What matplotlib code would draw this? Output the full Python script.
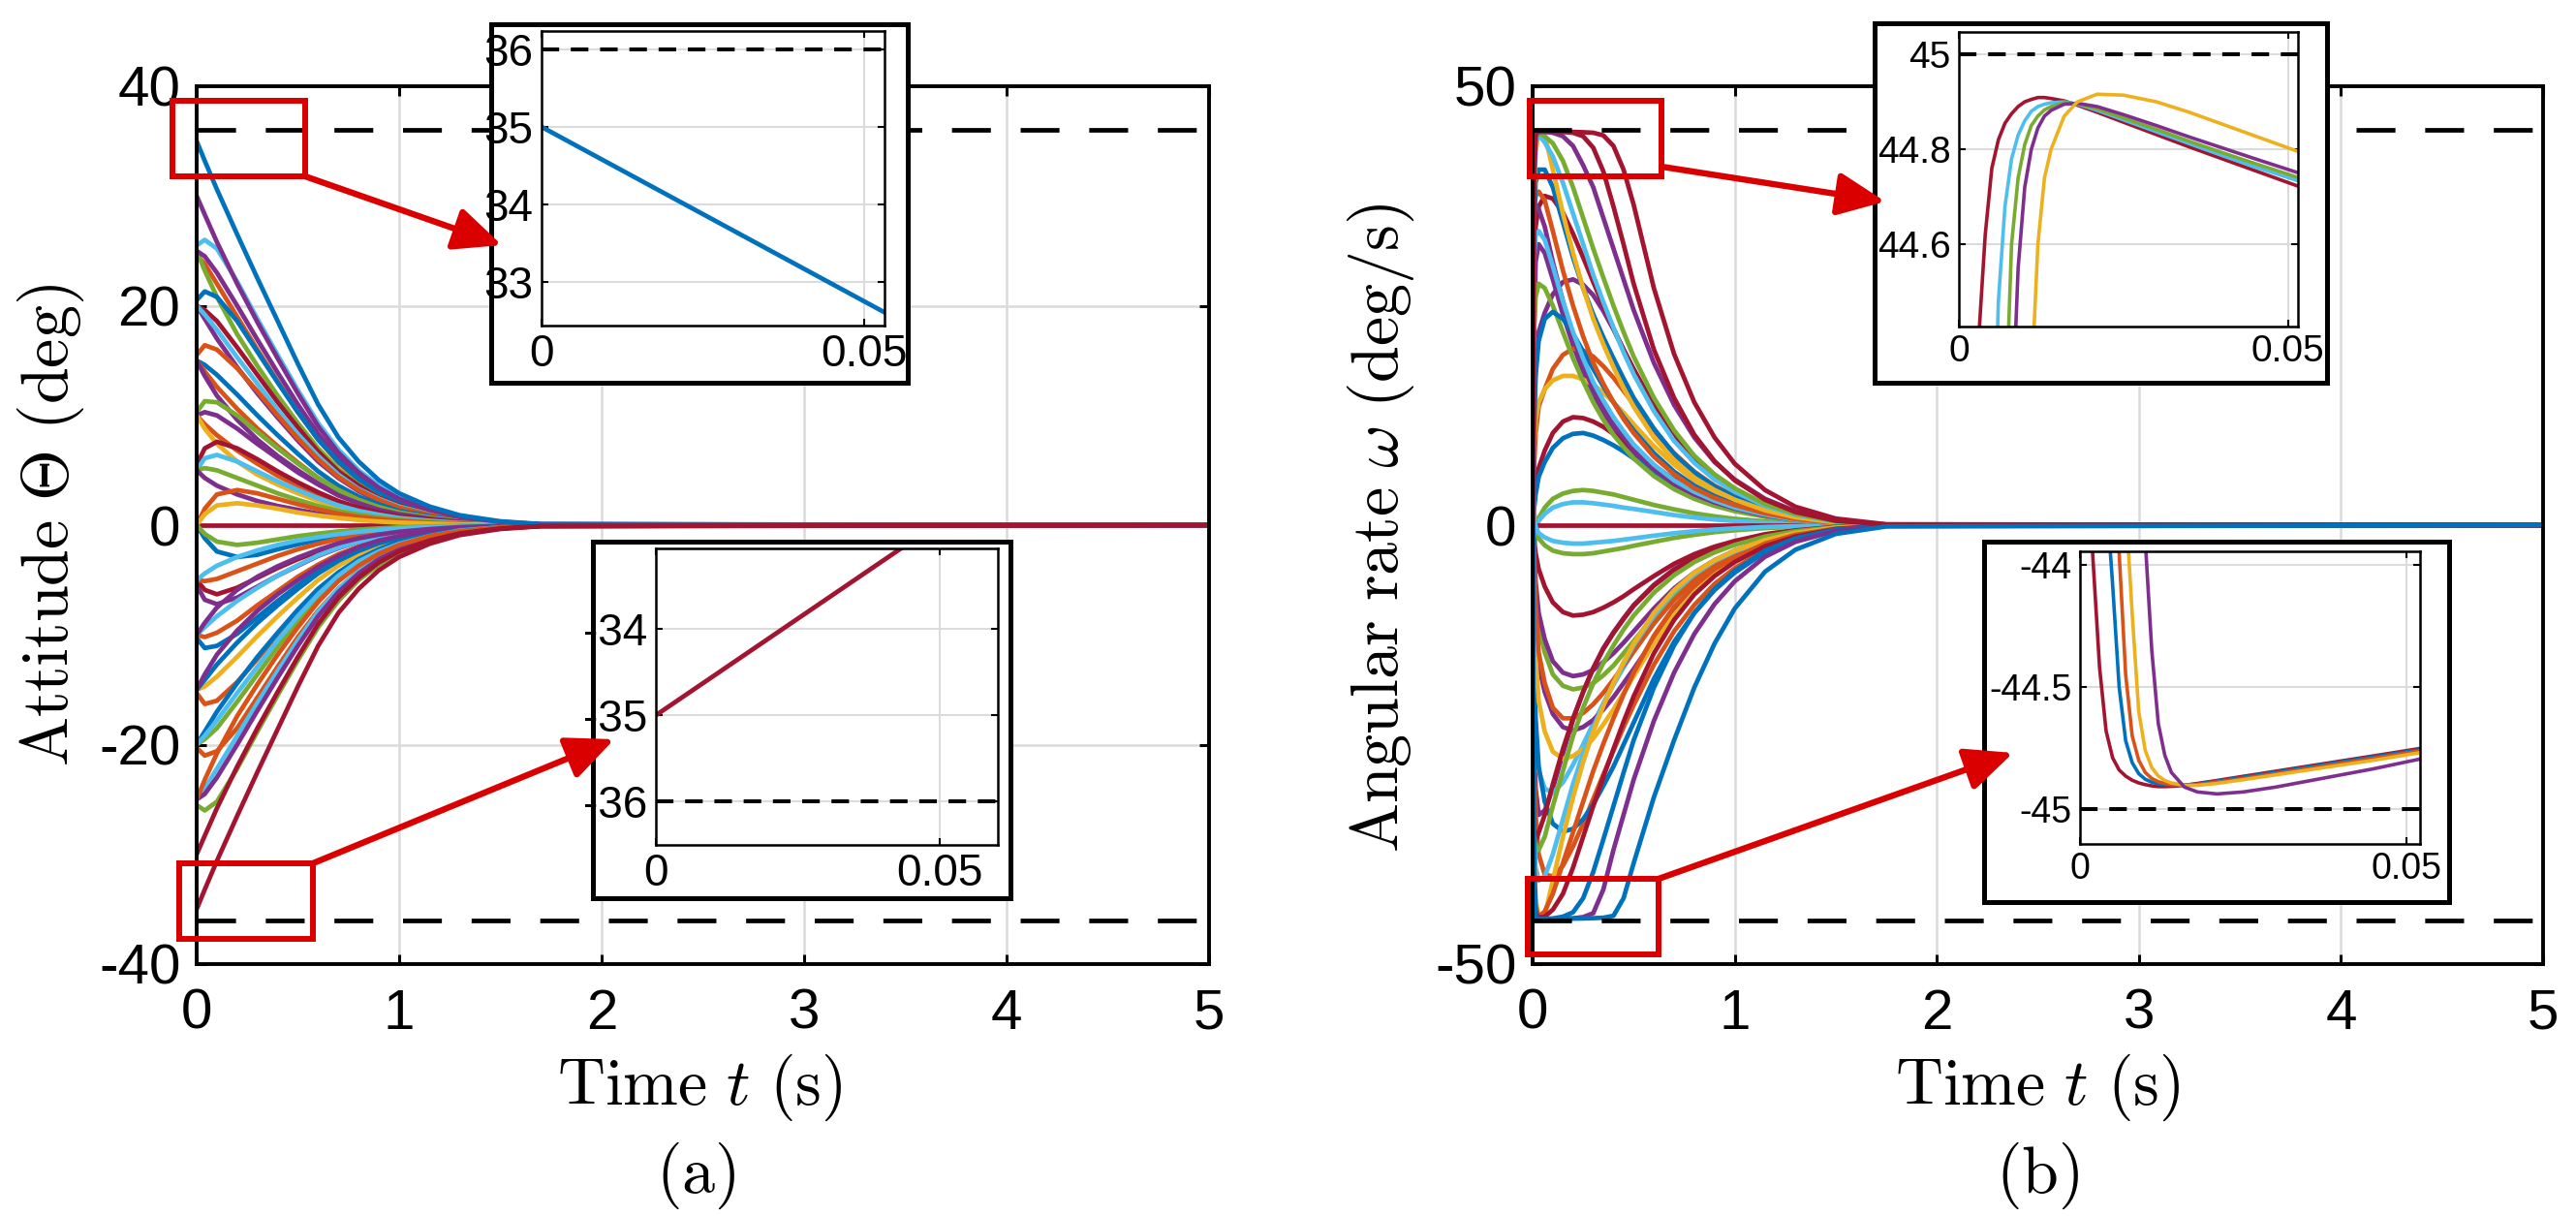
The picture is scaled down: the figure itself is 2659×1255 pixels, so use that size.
import matplotlib.pyplot as plt
from matplotlib.patches import Rectangle, FancyArrowPatch

# ---- data ----
# (a) attitude, deg, sampled at A_T seconds
A_T = [0, 0.04, 0.1, 0.2, 0.3, 0.4, 0.5, 0.6, 0.7, 0.8, 0.9, 1.0, 1.15, 1.3, 1.5, 1.7, 5.0]
A_CURVES = [
    [25.5, 26.0, 25.2, 22.2, 18.8, 15.5, 12.3, 9.3, 6.9, 5.0, 3.6, 2.5, 1.5, 0.8, 0.3, 0.08, 0],
    [24.6, 23.8, 22.0, 19.0, 16.0, 13.1, 10.3, 7.8, 5.7, 4.1, 2.9, 2.0, 1.2, 0.6, 0.25, 0.06, 0],
    [25, 23.2, 20.8, 17.4, 14.5, 11.8, 9.3, 7.0, 5.1, 3.7, 2.6, 1.8, 1.0, 0.55, 0.2, 0.05, 0],
    [25, 24.5, 23, 20, 16.9, 13.9, 11, 8.3, 6.1, 4.4, 3.1, 2.2, 1.3, 0.7, 0.27, 0.07, 0],
    [20.5, 21.3, 20.8, 18.6, 15.8, 13.0, 10.3, 7.8, 5.8, 4.2, 3.0, 2.1, 1.25, 0.65, 0.25, 0.07, 0],
    [20, 19.6, 18.6, 16.2, 13.7, 11.2, 8.9, 6.7, 4.9, 3.6, 2.5, 1.8, 1.05, 0.55, 0.2, 0.05, 0],
    [20, 18.8, 17.0, 14.4, 12.0, 9.8, 7.7, 5.8, 4.3, 3.1, 2.2, 1.5, 0.9, 0.45, 0.18, 0.05, 0],
    [20, 19.2, 17.8, 15.3, 12.9, 10.5, 8.3, 6.3, 4.6, 3.3, 2.4, 1.7, 1.0, 0.5, 0.2, 0.05, 0],
    [15.5, 16.4, 16.0, 14.3, 12.2, 10.0, 7.9, 6.0, 4.4, 3.2, 2.3, 1.6, 0.95, 0.5, 0.2, 0.05, 0],
    [15, 14.6, 13.7, 11.9, 10.0, 8.2, 6.5, 4.9, 3.6, 2.6, 1.9, 1.3, 0.8, 0.4, 0.15, 0.04, 0],
    [15, 14.0, 12.6, 10.6, 8.8, 7.2, 5.7, 4.3, 3.2, 2.3, 1.6, 1.15, 0.7, 0.35, 0.13, 0.03, 0],
    [15, 13.6, 11.8, 9.6, 7.8, 6.3, 5.0, 3.8, 2.8, 2.0, 1.4, 1.0, 0.6, 0.3, 0.12, 0.03, 0],
    [10.3, 11.3, 11.2, 10.0, 8.5, 7.0, 5.6, 4.3, 3.2, 2.3, 1.65, 1.15, 0.7, 0.35, 0.13, 0.03, 0],
    [10, 10.3, 10.0, 8.8, 7.4, 6.1, 4.8, 3.7, 2.7, 2.0, 1.4, 1.0, 0.6, 0.3, 0.12, 0.03, 0],
    [10, 9.2, 8.2, 6.8, 5.6, 4.5, 3.6, 2.7, 2.0, 1.45, 1.05, 0.75, 0.45, 0.22, 0.08, 0.02, 0],
    [10, 8.8, 7.4, 5.8, 4.6, 3.7, 2.9, 2.2, 1.6, 1.2, 0.85, 0.6, 0.35, 0.18, 0.07, 0.02, 0],
    [5.5, 7.0, 7.6, 7.0, 6.0, 4.9, 3.9, 3.0, 2.2, 1.6, 1.15, 0.8, 0.5, 0.25, 0.1, 0.02, 0],
    [5, 6.1, 6.4, 5.8, 4.9, 4.0, 3.2, 2.45, 1.8, 1.3, 0.95, 0.65, 0.4, 0.2, 0.08, 0.02, 0],
    [5, 5.2, 5.0, 4.3, 3.6, 2.9, 2.3, 1.75, 1.3, 0.95, 0.7, 0.5, 0.3, 0.15, 0.06, 0.01, 0],
    [5, 4.3, 3.6, 2.8, 2.2, 1.75, 1.4, 1.05, 0.8, 0.6, 0.42, 0.3, 0.18, 0.09, 0.03, 0.01, 0],
    [0, 0, 0, 0, 0, 0, 0, 0, 0, 0, 0, 0, 0, 0, 0, 0, 0],
    [0, 1.5, 2.8, 3.2, 2.9, 2.4, 1.9, 1.45, 1.05, 0.75, 0.55, 0.38, 0.22, 0.11, 0.04, 0.01, 0],
    [0, 1.0, 1.8, 2.0, 1.8, 1.5, 1.15, 0.88, 0.65, 0.47, 0.33, 0.23, 0.14, 0.07, 0.03, 0.01, 0],
    [0, -1.2, -2.4, -2.9, -2.7, -2.2, -1.75, -1.35, -1.0, -0.72, -0.52, -0.36, -0.21, -0.1, -0.04, -0.01, 0],
    [0, -0.8, -1.5, -1.8, -1.6, -1.3, -1.0, -0.77, -0.57, -0.41, -0.29, -0.2, -0.12, -0.06, -0.02, 0, 0],
    [-5.5, -6.8, -7.2, -6.6, -5.6, -4.6, -3.7, -2.8, -2.1, -1.5, -1.1, -0.75, -0.45, -0.22, -0.09, -0.02, 0],
    [-5, -5.9, -6.3, -5.7, -4.8, -3.9, -3.1, -2.4, -1.75, -1.25, -0.9, -0.63, -0.38, -0.19, -0.07, -0.02, 0],
    [-5, -5.1, -4.9, -4.2, -3.5, -2.8, -2.2, -1.7, -1.25, -0.92, -0.67, -0.48, -0.28, -0.14, -0.05, -0.01, 0],
    [-5, -4.4, -3.7, -2.9, -2.3, -1.8, -1.4, -1.1, -0.82, -0.6, -0.43, -0.3, -0.18, -0.09, -0.03, -0.01, 0],
    [-10.3, -11.2, -11.0, -9.9, -8.4, -6.9, -5.5, -4.2, -3.1, -2.25, -1.6, -1.1, -0.65, -0.33, -0.12, -0.03, 0],
    [-10, -10.2, -9.8, -8.7, -7.3, -6.0, -4.7, -3.6, -2.65, -1.95, -1.38, -0.97, -0.58, -0.3, -0.11, -0.03, 0],
    [-10, -9.3, -8.3, -6.9, -5.7, -4.6, -3.65, -2.75, -2.05, -1.5, -1.07, -0.76, -0.46, -0.23, -0.08, -0.02, 0],
    [-10, -8.9, -7.5, -5.9, -4.7, -3.75, -2.95, -2.25, -1.65, -1.2, -0.86, -0.6, -0.36, -0.18, -0.07, -0.02, 0],
    [-15.3, -16.3, -16.0, -14.3, -12.2, -10.0, -7.9, -6.0, -4.4, -3.2, -2.3, -1.6, -0.95, -0.5, -0.2, -0.05, 0],
    [-15, -14.7, -13.8, -12.0, -10.1, -8.3, -6.6, -5.0, -3.7, -2.7, -1.9, -1.35, -0.8, -0.4, -0.15, -0.04, 0],
    [-15, -14.1, -12.7, -10.7, -8.9, -7.3, -5.8, -4.4, -3.25, -2.35, -1.65, -1.17, -0.7, -0.35, -0.13, -0.03, 0],
    [-15, -13.6, -11.8, -9.6, -7.8, -6.3, -5.0, -3.8, -2.8, -2.0, -1.4, -1.0, -0.6, -0.3, -0.12, -0.03, 0],
    [-20.3, -21.0, -20.6, -18.5, -15.7, -12.9, -10.2, -7.8, -5.8, -4.2, -3.0, -2.1, -1.25, -0.65, -0.25, -0.07, 0],
    [-20, -19.5, -18.5, -16.1, -13.6, -11.1, -8.8, -6.6, -4.9, -3.6, -2.5, -1.8, -1.05, -0.55, -0.2, -0.05, 0],
    [-20, -18.8, -17.0, -14.4, -12.0, -9.8, -7.7, -5.8, -4.3, -3.1, -2.2, -1.5, -0.9, -0.45, -0.18, -0.05, 0],
    [-20, -19.2, -17.8, -15.3, -12.9, -10.5, -8.3, -6.3, -4.6, -3.3, -2.4, -1.7, -1.0, -0.5, -0.2, -0.05, 0],
    [-25.5, -26.0, -25.2, -22.2, -18.8, -15.5, -12.3, -9.3, -6.9, -5.0, -3.6, -2.5, -1.5, -0.8, -0.3, -0.08, 0],
    [-25, -24.0, -22.2, -19.2, -16.2, -13.3, -10.5, -7.9, -5.8, -4.2, -3.0, -2.1, -1.25, -0.65, -0.25, -0.06, 0],
    [-25, -24.5, -23.0, -20.0, -16.9, -13.9, -11.0, -8.3, -6.1, -4.4, -3.1, -2.2, -1.3, -0.7, -0.27, -0.07, 0],
    [-25, -23.2, -20.8, -17.4, -14.5, -11.8, -9.3, -7.0, -5.1, -3.7, -2.6, -1.8, -1.0, -0.55, -0.2, -0.05, 0],
    [30, 28.3, 25.8, 22.0, 18.5, 15.2, 12.0, 9.0, 6.6, 4.8, 3.4, 2.4, 1.4, 0.75, 0.3, 0.08, 0],
    [35, 33.2, 30.6, 26.5, 22.5, 18.6, 14.7, 11.0, 8.0, 5.8, 4.1, 2.9, 1.7, 0.9, 0.35, 0.1, 0],
    [-30, -28.3, -25.8, -22.0, -18.5, -15.2, -12.0, -9.0, -6.6, -4.8, -3.4, -2.4, -1.4, -0.75, -0.3, -0.08, 0],
    [-35, -33.2, -30.6, -26.5, -22.5, -18.6, -14.7, -11.0, -8.0, -5.8, -4.1, -2.9, -1.7, -0.9, -0.35, -0.1, 0],
]
A_COLORS = "cogpbrpcobopgpoyrcgproybgproc" "bocpoybpogbcgcpopbrr"

# (b) angular rate, deg/s, sampled at B_T seconds
B_T = [0, 0.006, 0.015, 0.03, 0.06, 0.1, 0.15, 0.2, 0.25, 0.3, 0.35, 0.4,
       0.45, 0.5, 0.6, 0.7, 0.8, 0.9, 1.0, 1.15, 1.3, 1.5, 1.75, 5.0]
B_CURVES = [
    [-44, 20, 30, 32, 31, 28, 24, 20.5, 17.5, 15, 12.8, 11, 9.5, 8.2, 6.1, 4.5, 3.3, 2.45, 1.8, 1.05, 0.55, 0.2, 0.02, 0],
    [44, -20, -30, -33, -32.5, -30, -26, -22.2, -19, -16.3, -14, -12.2, -10.6, -9.1, -6.8, -5.0, -3.7, -2.75, -2.0, -1.17, -0.63, -0.22, -0.02, 0],
    [0, 12, 18, 22, 24.2, 26.3, 27.7, 28, 27.4, 26.2, 24.4, 22.3, 20, 17.8, 13.6, 10.2, 7.5, 5.5, 4.0, 2.3, 1.2, 0.4, 0.04, 0],
    [-5, 6, 10.5, 13.5, 15.5, 17.8, 19.4, 20.1, 19.9, 19.2, 18.1, 16.8, 15.3, 13.8, 10.8, 8.2, 6.1, 4.5, 3.3, 1.9, 1.0, 0.35, 0.03, 0],
    [0, 2.5, 4.5, 6.5, 8.5, 10.5, 11.8, 12.3, 12.2, 11.8, 11.2, 10.4, 9.5, 8.6, 6.8, 5.2, 3.9, 2.9, 2.1, 1.2, 0.65, 0.22, 0.02, 0],
    [-3, 1.5, 3.5, 5.5, 7.2, 8.8, 9.9, 10.4, 10.5, 10.2, 9.7, 9.1, 8.4, 7.6, 6.1, 4.7, 3.5, 2.6, 1.9, 1.1, 0.6, 0.2, 0.02, 0],
    [-8, -3, -1, 0.8, 2.0, 3.0, 3.6, 3.9, 4.0, 3.9, 3.7, 3.5, 3.2, 2.9, 2.3, 1.8, 1.35, 1.0, 0.72, 0.42, 0.23, 0.08, 0.01, 0],
    [-6, -2.5, -0.8, 0.5, 1.3, 2.0, 2.4, 2.6, 2.6, 2.5, 2.35, 2.2, 2.0, 1.85, 1.5, 1.15, 0.87, 0.64, 0.47, 0.27, 0.15, 0.05, 0.01, 0],
    [5, 9, 12, 14, 15.5, 16.5, 17, 17, 16.6, 16, 15.1, 14, 12.8, 11.5, 9, 6.9, 5.1, 3.8, 2.8, 1.6, 0.85, 0.3, 0.03, 0],
    [0, 0, 0, 0, 0, 0, 0, 0, 0, 0, 0, 0, 0, 0, 0, 0, 0, 0, 0, 0, 0, 0, 0, 0],
    [10, 22, 26, 27.5, 27, 25, 22, 19, 16.4, 14, 12, 10.3, 8.9, 7.6, 5.6, 4.1, 3.0, 2.2, 1.6, 0.95, 0.5, 0.17, 0.02, 0],
    [-10, 10, 17, 21, 23.5, 24.3, 23.5, 21.8, 19.8, 17.8, 15.8, 14, 12.3, 10.8, 8.2, 6.1, 4.5, 3.3, 2.4, 1.4, 0.75, 0.25, 0.02, 0],
    [-5, -18, -24, -28, -30, -30.5, -29.3, -27.3, -25, -22.6, -20.3, -18.2, -16.2, -14.4, -11.2, -8.5, -6.4, -4.7, -3.5, -2.0, -1.1, -0.38, -0.04, 0],
    [0, -25, -33, -37.5, -39.8, -40, -38.8, -36.6, -34, -31.2, -28.4, -25.7, -23, -20.5, -15.9, -12.1, -9.1, -6.7, -4.9, -2.8, -1.5, -0.5, -0.05, 0],
    [20, 30, 34, 36.3, 37.5, 37.2, 35.6, 33.2, 30.5, 27.7, 25, 22.4, 20, 17.7, 13.6, 10.2, 7.5, 5.5, 4.0, 2.3, 1.2, 0.4, 0.04, 0],
    [0, -8, -12.5, -16, -19, -21.5, -23, -23.4, -23, -22.2, -21, -19.6, -18, -16.4, -13, -9.9, -7.4, -5.5, -4.0, -2.3, -1.25, -0.43, -0.04, 0],
    [0, -14, -22, -27.5, -31.5, -34, -34.9, -34.6, -33.5, -31.8, -29.7, -27.5, -25, -22.5, -17.5, -13.3, -10, -7.4, -5.4, -3.1, -1.7, -0.6, -0.06, 0],
    [5, -8, -15, -20, -23.5, -25.8, -26.6, -26.3, -25.5, -24.3, -22.7, -21, -19.1, -17.2, -13.5, -10.2, -7.6, -5.6, -4.1, -2.4, -1.3, -0.45, -0.04, 0],
    [0, -4, -8, -11.5, -14.5, -17, -18.3, -18.7, -18.5, -18, -17.1, -16, -14.6, -13.2, -10.4, -7.9, -5.9, -4.4, -3.2, -1.85, -1.0, -0.35, -0.03, 0],
    [3, -3, -6.5, -10, -13, -15.5, -16.8, -17.2, -17, -16.5, -15.6, -14.6, -13.4, -12.1, -9.5, -7.2, -5.4, -4.0, -2.9, -1.7, -0.9, -0.3, -0.03, 0],
    [0, -1.5, -3.2, -5, -7, -8.8, -9.9, -10.3, -10.2, -9.9, -9.4, -8.8, -8.1, -7.3, -5.8, -4.4, -3.3, -2.45, -1.8, -1.03, -0.55, -0.2, -0.02, 0],
    [10, -2, -9, -14.5, -18, -20.8, -22, -22, -21.4, -20.4, -19.1, -17.6, -16, -14.4, -11.2, -8.5, -6.3, -4.6, -3.4, -1.95, -1.05, -0.36, -0.03, 0],
    [6, 2, -0.3, -1.5, -2.3, -2.9, -3.2, -3.3, -3.3, -3.2, -3.0, -2.8, -2.6, -2.35, -1.9, -1.45, -1.1, -0.8, -0.58, -0.34, -0.18, -0.06, -0.01, 0],
    [4, 1, -0.2, -0.9, -1.4, -1.8, -2.0, -2.1, -2.1, -2.0, -1.9, -1.8, -1.65, -1.5, -1.2, -0.92, -0.69, -0.51, -0.37, -0.21, -0.12, -0.04, -0.01, 0],
    [35, 36, 36.5, 36, 34, 30, 25.5, 21.5, 18.2, 15.5, 13.3, 11.5, 10, 8.6, 6.4, 4.7, 3.5, 2.6, 1.9, 1.1, 0.6, 0.2, 0.02, 0],
    [15, 30, 33, 33.5, 32.5, 29.5, 25.5, 22, 19, 16.3, 14.2, 12.3, 10.7, 9.2, 6.9, 5.1, 3.8, 2.8, 2.0, 1.2, 0.6, 0.2, 0.02, 0],
    [30, 35, 37.5, 38, 37, 33.5, 29, 25, 21.5, 18.5, 16.1, 14, 12.1, 10.5, 7.8, 5.8, 4.2, 3.1, 2.3, 1.35, 0.7, 0.25, 0.02, 0],
    [25, 34, 39, 40.5, 40.5, 38.5, 34.5, 30.5, 27, 24, 21.4, 19, 16.7, 14.5, 11, 8.1, 6, 4.4, 3.2, 1.9, 1.0, 0.35, 0.03, 0],
    [20, 36, 42.5, 44.8, 44.5, 40.5, 35.5, 31, 27, 23.5, 20.6, 18, 15.6, 13.5, 10, 7.4, 5.4, 4.0, 2.9, 1.7, 0.9, 0.3, 0.03, 0],
    [-10, 38, 43.5, 44.5, 43.6, 42, 39, 35.5, 32, 28.5, 25.4, 22.5, 19.7, 17.2, 13, 9.6, 7.1, 5.2, 3.8, 2.2, 1.2, 0.4, 0.04, 0],
    [5, 40, 44.2, 44.7, 44.3, 43.5, 41.5, 38.5, 35, 31.5, 28.2, 25, 22, 19.2, 14.5, 10.8, 7.9, 5.8, 4.2, 2.4, 1.3, 0.45, 0.05, 0],
    [-20, 38, 44.5, 44.8, 44.8, 44.7, 44.3, 43.2, 41, 38.5, 35, 31.5, 28, 24.5, 18.5, 13.7, 10, 7.2, 5.2, 3.0, 1.6, 0.55, 0.06, 0],
    [-35, -36, -36, -35, -33, -29.5, -25.5, -22, -19, -16.3, -14.1, -12.3, -10.7, -9.2, -6.9, -5.1, -3.8, -2.8, -2.0, -1.2, -0.6, -0.2, -0.02, 0],
    [-30, -35, -37, -37, -35.5, -32, -28, -24, -20.8, -18, -15.7, -13.7, -11.9, -10.3, -7.7, -5.7, -4.2, -3.1, -2.25, -1.3, -0.7, -0.24, -0.02, 0],
    [-25, -34, -39, -40.5, -40, -37.5, -33.5, -29.5, -26, -23, -20.4, -18, -15.8, -13.7, -10.3, -7.6, -5.6, -4.1, -3.0, -1.75, -0.95, -0.32, -0.03, 0],
    [-20, -37, -42.5, -44.9, -44.5, -40.5, -35.5, -31, -27, -23.5, -20.6, -18, -15.6, -13.5, -10, -7.4, -5.4, -4.0, -2.9, -1.7, -0.9, -0.3, -0.03, 0],
    [-15, -38, -43.5, -44.6, -44.0, -42.0, -38.5, -35, -31.5, -28, -24.9, -22, -19.3, -16.8, -12.6, -9.3, -6.9, -5.0, -3.7, -2.1, -1.1, -0.4, -0.04, 0],
    [5, -40, -44.2, -44.7, -44.6, -43.8, -42, -39, -35.5, -32, -28.7, -25.5, -22.4, -19.5, -14.6, -10.8, -7.9, -5.8, -4.2, -2.4, -1.3, -0.45, -0.05, 0],
    [10, -38, -44.6, -44.85, -44.85, -44.8, -44.6, -44.1, -42.5, -39.5, -35.8, -32, -28.2, -24.5, -18.5, -13.7, -10, -7.3, -5.2, -2.9, -1.5, -0.5, -0.05, 0],
    [-5, -42, -44.8, -44.9, -44.88, -44.85, -44.82, -44.78, -44.65, -44.2, -41.5, -37, -33, -29, -22.3, -16.8, -12.4, -9, -6.4, -3.6, -1.9, -0.65, -0.08, 0],
    [10, 42, 44.8, 44.9, 44.87, 44.84, 44.8, 44.7, 44.3, 43.0, 40.3, 36.3, 32, 27.5, 20, 14.5, 10.3, 7.3, 5.1, 2.9, 1.5, 0.5, 0.06, 0],
    [0, 40, 44.8, 44.9, 44.88, 44.86, 44.83, 44.8, 44.76, 44.7, 44.4, 43.2, 40.5, 36.5, 27, 19.5, 14, 10, 7, 4, 2.1, 0.75, 0.1, 0],
    [0, -40, -44.8, -44.9, -44.88, -44.86, -44.84, -44.82, -44.8, -44.77, -44.72, -44.5, -42.5, -38.5, -31, -24.5, -18.5, -13.5, -9.5, -5.3, -2.8, -1.0, -0.15, 0],
]
B_COLORS = "ppporbgcyr" "gbcorp" "bygprogc" "pcobycgp" "rgcyorbp" "rrb"

# zoomed insets
A_IN_T = [0, 0.055]
A_IN_TOP = [35, 32.52]
A_IN_BOT = [-35, -32.54]

B_IN_T = [0.001, 0.002, 0.003, 0.004, 0.005, 0.006, 0.007, 0.008, 0.009, 0.010, 0.011, 0.012,
          0.013, 0.014, 0.016, 0.018, 0.021, 0.025, 0.03, 0.035, 0.04, 0.045, 0.053]
B_IN_TOP = [
    [43.2, 43.8, 44.40, 44.62, 44.76, 44.82, 44.855, 44.875, 44.89, 44.90, 44.905, 44.909,
     44.909, 44.907, 44.902, 44.893, 44.878, 44.857, 44.831, 44.805, 44.78, 44.755, 44.715],
    [42.0, 42.5, 43.0, 43.5, 44.0, 44.48, 44.68, 44.78, 44.83, 44.86, 44.88, 44.89,
     44.895, 44.898, 44.90, 44.895, 44.882, 44.862, 44.837, 44.812, 44.787, 44.763, 44.727],
    [41.5, 42.0, 42.5, 43.0, 43.4, 43.8, 44.2, 44.60, 44.74, 44.81, 44.85, 44.87,
     44.883, 44.89, 44.898, 44.896, 44.885, 44.866, 44.842, 44.817, 44.793, 44.77, 44.734],
    [41.6, 42.0, 42.4, 42.8, 43.2, 43.6, 43.9, 44.2, 44.55, 44.72, 44.80, 44.845,
     44.87, 44.882, 44.895, 44.897, 44.89, 44.873, 44.85, 44.826, 44.803, 44.78, 44.744],
    [40.6, 41.0, 41.4, 41.8, 42.2, 42.6, 43.0, 43.4, 43.7, 44.0, 44.3, 44.60,
     44.74, 44.80, 44.87, 44.90, 44.916, 44.914, 44.90, 44.878, 44.853, 44.828, 44.788],
]
B_IN_TOP_COLORS = "rcgpy"
B_IN_BOT = [
    [-43.5, -43.98, -44.42, -44.68, -44.79, -44.84, -44.865, -44.882, -44.893, -44.90, -44.905, -44.908,
     -44.908, -44.907, -44.903, -44.895, -44.883, -44.866, -44.845, -44.824, -44.803, -44.782, -44.748],
    [-42.5, -42.9, -43.3, -43.7, -44.08, -44.5, -44.72, -44.81, -44.855, -44.878, -44.89, -44.897,
     -44.90, -44.902, -44.902, -44.897, -44.886, -44.870, -44.849, -44.828, -44.807, -44.786, -44.753],
    [-42.3, -42.6, -42.9, -43.2, -43.5, -43.95, -44.45, -44.7, -44.8, -44.85, -44.875, -44.888,
     -44.895, -44.9, -44.903, -44.9, -44.89, -44.875, -44.855, -44.834, -44.813, -44.792, -44.758],
    [-42.0, -42.3, -42.6, -42.9, -43.2, -43.5, -43.75, -44.2, -44.6, -44.76, -44.83, -44.865,
     -44.883, -44.893, -44.903, -44.903, -44.895, -44.88, -44.86, -44.84, -44.82, -44.8, -44.765],
    [-41.5, -41.8, -42.1, -42.4, -42.7, -43.0, -43.3, -43.5, -43.7, -43.9, -44.35, -44.65,
     -44.78, -44.85, -44.91, -44.93, -44.938, -44.93, -44.91, -44.885, -44.86, -44.835, -44.79],
]
B_IN_BOT_COLORS = "rboyp"

# ---- style ----
MATLAB = {'b': '#0072BD', 'o': '#D95319', 'y': '#EDB120', 'p': '#7E2F8E',
          'g': '#77AC30', 'c': '#4DBEEE', 'r': '#A2142F'}
RED = '#DA0000'
GRID = '#DADADA'

plt.rcParams['font.family'] = ['Liberation Sans', 'DejaVu Sans']
plt.rcParams['mathtext.fontset'] = 'cm'
plt.rcParams['axes.unicode_minus'] = False

W, H = 2659, 1255
fig = plt.figure(figsize=(W / 100, H / 100), dpi=100)


def frac(l, t, r, b):
    return [l / W, 1 - b / H, (r - l) / W, (b - t) / H]


def pt(x, y):
    return (x / W, 1 - y / H)


def main_axes(rect, ylim, yticks):
    ax = fig.add_axes(frac(*rect))
    ax.set_xlim(0, 5)
    ax.set_ylim(*ylim)
    ax.set_xticks([0, 1, 2, 3, 4, 5])
    ax.set_yticks(yticks)
    ax.grid(True, color=GRID, lw=1.8)
    for s in ax.spines.values():
        s.set_linewidth(2.8)
    ax.tick_params(direction='in', length=7, width=2.2, top=True, right=True,
                   labelsize=42)
    ax.tick_params(axis='x', pad=18)
    ax.tick_params(axis='y', pad=12)
    return ax


def inset(outer, inner, xlim, ylim, xticks, yticks, ylabels, size):
    box = fig.add_axes(frac(*outer), zorder=5)
    box.set_xticks([])
    box.set_yticks([])
    for s in box.spines.values():
        s.set_linewidth(3.6)
    ax = fig.add_axes(frac(*inner), zorder=6)
    ax.set_xlim(*xlim)
    ax.set_ylim(*ylim)
    ax.set_xticks(xticks)
    ax.set_xticklabels(['0', '0.05'])
    ax.set_yticks(yticks)
    ax.set_yticklabels(ylabels)
    ax.grid(True, color=GRID, lw=1.4)
    for s in ax.spines.values():
        s.set_linewidth(1.8)
    ax.tick_params(direction='in', length=5, width=1.5, top=True, right=True,
                   labelsize=size, pad=6)
    return ax


# (a) attitude
ax_a = main_axes((203, 89, 1248, 995), (-40, 40), [-40, -20, 0, 20, 40])
for vals, c in zip(A_CURVES, A_COLORS):
    ax_a.plot(A_T, vals, color=MATLAB[c], lw=3.4)
for lim in (36, -36):
    ax_a.axhline(lim, color='k', lw=3.4, ls=(0, (8.5, 6.5)), zorder=4)

# (b) angular rate
ax_b = main_axes((1582, 89, 2625, 995), (-50, 50), [-50, 0, 50])
for vals, c in zip(B_CURVES, B_COLORS):
    ax_b.plot(B_T, vals, color=MATLAB[c], lw=3.4)
for lim in (45, -45):
    ax_b.axhline(lim, color='k', lw=3.4, ls=(0, (8.5, 6.5)), zorder=4)

# insets of (a)
ia1 = inset((507, 25, 937, 395), (559, 32, 913, 336), (0, 0.0532), (32.43, 36.24),
            [0, 0.05], [33, 34, 35, 36], ['33', '34', '35', '36'], 33)
ia1.plot(A_IN_T, A_IN_TOP, color=MATLAB['b'], lw=3.4)
ia1.axhline(36, color='k', lw=2.9, ls=(0, (4.5, 3)))

ia2 = inset((612, 559, 1043, 927), (677, 566, 1030, 872), (0, 0.0602), (-36.5, -33.07),
            [0, 0.05], [-36, -35, -34], ['-36', '-35', '-34'], 33)
ia2.plot(A_IN_T, A_IN_BOT, color=MATLAB['r'], lw=3.4)
ia2.axhline(-36, color='k', lw=2.9, ls=(0, (4.5, 3)))

# insets of (b)
ib1 = inset((1935, 24, 2402, 395), (2022, 33, 2372, 337), (0, 0.0515), (44.427, 45.047),
            [0, 0.05], [44.6, 44.8, 45], ['44.6', '44.8', '45'], 28)
for vals, c in zip(B_IN_TOP, B_IN_TOP_COLORS):
    ib1.plot(B_IN_T, vals, color=MATLAB[c], lw=2.6)
ib1.axhline(45, color='k', lw=2.9, ls=(0, (4.5, 3)))

ib2 = inset((2048, 559, 2528, 931), (2147, 569, 2498, 871), (0, 0.0521), (-45.143, -43.944),
            [0, 0.05], [-45, -44.5, -44], ['-45', '-44.5', '-44'], 27)
for vals, c in zip(B_IN_BOT, B_IN_BOT_COLORS):
    ib2.plot(B_IN_T, vals, color=MATLAB[c], lw=2.6)
ib2.axhline(-45, color='k', lw=2.9, ls=(0, (4.5, 3)))

# red zoom boxes and arrows
for l, t, r, b in [(178, 104, 315, 182), (185, 891, 323, 969),
                   (1579, 104, 1715, 182), (1577, 907, 1712, 985)]:
    fig.add_artist(Rectangle(pt(l, b), (r - l) / W, (b - t) / H, transform=fig.transFigure,
                             fill=False, ec=RED, lw=4.3, zorder=8))
for (x1, y1), (x2, y2) in [((315, 182), (518, 253)), ((323, 891), (634, 763)),
                           ((1715, 172), (1946, 208)), ((1712, 907), (2078, 777))]:
    fig.add_artist(FancyArrowPatch(pt(x1, y1), pt(x2, y2), transform=fig.transFigure,
                                   arrowstyle='-|>,head_length=1.0,head_width=0.45',
                                   mutation_scale=30, lw=4.6, color=RED,
                                   shrinkA=0, shrinkB=0, joinstyle='round', zorder=9))

# labels
fig.text(*pt(52, 542), r'$\mathrm{Attitude}\ \Theta\ \mathrm{(deg)}$', rotation=90,
         ha='center', va='center', fontsize=49)
fig.text(*pt(1425, 545), r'$\mathrm{Angular\ rate}\ \omega\ \mathrm{(deg/s)}$', rotation=90,
         ha='center', va='center', fontsize=49)
fig.text(*pt(722, 1122), r'$\mathrm{Time}\ t\ \mathrm{(s)}$', ha='center', va='center', fontsize=49)
fig.text(*pt(2103, 1122), r'$\mathrm{Time}\ t\ \mathrm{(s)}$', ha='center', va='center', fontsize=49)
fig.text(*pt(718, 1213), r'$\mathrm{(a)}$', ha='center', va='center', fontsize=49)
fig.text(*pt(2103, 1213), r'$\mathrm{(b)}$', ha='center', va='center', fontsize=49)

fig.savefig('out.png', dpi=100)
